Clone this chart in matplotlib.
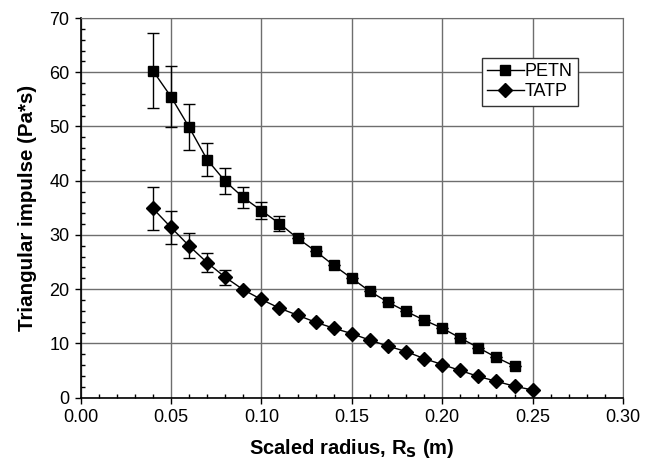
import matplotlib
matplotlib.use("Agg")
import matplotlib.pyplot as plt
from matplotlib.ticker import MultipleLocator, FormatStrFormatter

plt.rcParams['font.family'] = ['Liberation Sans', 'DejaVu Sans']

x_petn = [0.04, 0.05, 0.06, 0.07, 0.08, 0.09, 0.10, 0.11, 0.12, 0.13, 0.14,
          0.15, 0.16, 0.17, 0.18, 0.19, 0.20, 0.21, 0.22, 0.23, 0.24]
petn = [60.3, 55.5, 49.9, 43.9, 39.9, 36.9, 34.5, 32.1, 29.4, 27.0, 24.4,
        22.0, 19.6, 17.6, 15.9, 14.3, 12.8, 11.0, 9.2, 7.4, 5.8]
petn_err = [6.9, 5.6, 4.2, 3.1, 2.4, 2.0, 1.6, 1.3, 0, 0, 0,
            0, 0, 0, 0, 0, 0, 0, 0, 0, 0]

x_tatp = [0.04, 0.05, 0.06, 0.07, 0.08, 0.09, 0.10, 0.11, 0.12, 0.13, 0.14,
          0.15, 0.16, 0.17, 0.18, 0.19, 0.20, 0.21, 0.22, 0.23, 0.24, 0.25]
tatp = [34.9, 31.4, 28.0, 24.9, 22.2, 19.9, 18.1, 16.5, 15.2, 13.9, 12.8,
        11.8, 10.6, 9.5, 8.5, 7.2, 6.1, 5.0, 3.9, 3.0, 2.1, 1.4]
tatp_err = [4.0, 3.1, 2.3, 1.8, 1.4, 0, 0, 0, 0, 0, 0,
            0, 0, 0, 0, 0, 0, 0, 0, 0, 0, 0]

fig = plt.figure(figsize=(6.59, 4.61), dpi=100)
ax = fig.add_axes([80.5/659, 1-397.6/461, (623-80.5)/659, (397.6-18)/461])

grid_c = '#6e6e6e'
ax.set_xlim(0, 0.30)
ax.set_ylim(0, 70)
ax.xaxis.set_major_locator(MultipleLocator(0.05))
ax.xaxis.set_minor_locator(MultipleLocator(0.01))
ax.yaxis.set_major_locator(MultipleLocator(10))
ax.yaxis.set_minor_locator(MultipleLocator(2))
ax.xaxis.set_major_formatter(FormatStrFormatter('%.2f'))
ax.grid(True, which='major', color=grid_c, linewidth=1.0, zorder=0)
ax.set_axisbelow(True)

for s in ['top', 'right']:
    ax.spines[s].set_color(grid_c)
for s in ['left', 'bottom']:
    ax.spines[s].set_color('black')
    ax.spines[s].set_linewidth(1.2)

ax.tick_params(which='major', direction='out', length=4, width=1, labelsize=13, color='black', pad=4)
ax.tick_params(which='minor', direction='in', length=3, width=1, color='black')
ax.tick_params(axis='both', which='both', top=False, right=False)

ax.errorbar(x_petn, petn, yerr=petn_err,
            color='black', marker='s', markersize=6.5, linewidth=1, capsize=4.2,
            elinewidth=1, capthick=1, label='PETN', zorder=3)
ax.errorbar(x_tatp, tatp, yerr=tatp_err,
            color='black', marker='D', markersize=7.5, linewidth=1, capsize=4.2,
            elinewidth=1, capthick=1, label='TATP', zorder=3)

ax.set_xlabel('Scaled radius, R$_\\mathbf{S}$ (m)', fontsize=14.5, fontweight='bold', labelpad=8)
ax.set_ylabel('Triangular impulse (Pa*s)', fontsize=14.8, fontweight='bold', labelpad=9)

h, l = ax.get_legend_handles_labels()
h = [hh[0] for hh in h]
leg = ax.legend(h, l, loc='upper left',
                bbox_to_anchor=((482-80.5)/(623-80.5), 1-(58-18)/(397.6-18)),
                fontsize=13, frameon=True, fancybox=False, edgecolor='#333333',
                borderpad=0.3, handlelength=2.0, handletextpad=0.05, labelspacing=0.15,
                borderaxespad=0)
leg.get_frame().set_linewidth(1)
leg.get_frame().set_alpha(1)

fig.savefig('out.png', dpi=100)
